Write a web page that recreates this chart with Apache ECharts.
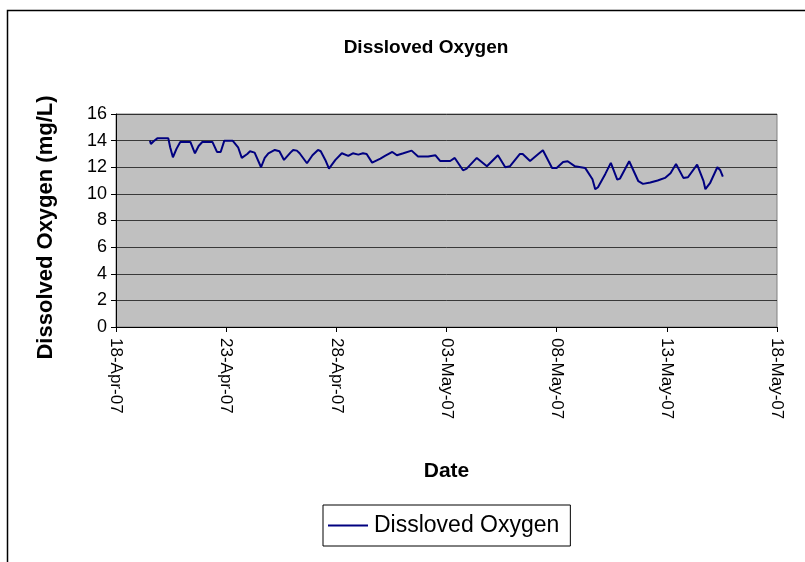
<!DOCTYPE html>
<html>
<head>
<meta charset="utf-8">
<script src="https://cdn.jsdelivr.net/npm/echarts@6/dist/echarts.min.js"></script>
<style>
  html, body { margin: 0; padding: 0; background: #fff; }
  #chart { width: 805px; height: 562px; }
</style>
</head>
<body>
<div id="chart"></div>
<script>
// readings (date hour) and dissolved oxygen, mg/L
const times = [
  '2007-04-19 13:00', '2007-04-19 14:00', '2007-04-19 17:00', '2007-04-19 21:00',
  '2007-04-20 09:00', '2007-04-20 11:00', '2007-04-20 14:00', '2007-04-20 18:00', '2007-04-20 22:00',
  '2007-04-21 09:00', '2007-04-21 14:00', '2007-04-21 18:00', '2007-04-21 22:00',
  '2007-04-22 09:00', '2007-04-22 10:00', '2007-04-22 14:00', '2007-04-22 18:00', '2007-04-22 22:00',
  '2007-04-23 07:00', '2007-04-23 13:00', '2007-04-23 17:00', '2007-04-23 23:00',
  '2007-04-24 02:00', '2007-04-24 07:00', '2007-04-24 14:00', '2007-04-24 18:00', '2007-04-24 22:00',
  '2007-04-25 05:00', '2007-04-25 10:00', '2007-04-25 15:00', '2007-04-25 22:00',
  '2007-04-26 01:00', '2007-04-26 05:00', '2007-04-26 08:00', '2007-04-26 16:00', '2007-04-26 22:00',
  '2007-04-27 04:00', '2007-04-27 07:00', '2007-04-27 12:00', '2007-04-27 16:00', '2007-04-27 23:00',
  '2007-04-28 06:00', '2007-04-28 13:00', '2007-04-28 18:00',
  '2007-04-29 00:00', '2007-04-29 05:00', '2007-04-29 09:00', '2007-04-29 15:00',
  '2007-04-30 00:00', '2007-04-30 05:00', '2007-04-30 13:00', '2007-04-30 18:00',
  '2007-05-01 01:00', '2007-05-01 10:00', '2007-05-01 17:00',
  '2007-05-02 04:00', '2007-05-02 12:00', '2007-05-02 17:00',
  '2007-05-03 04:00', '2007-05-03 09:00', '2007-05-03 18:00', '2007-05-03 22:00',
  '2007-05-04 09:00', '2007-05-04 20:00',
  '2007-05-05 08:00', '2007-05-05 16:00', '2007-05-05 21:00',
  '2007-05-06 08:00', '2007-05-06 11:00', '2007-05-06 19:00',
  '2007-05-07 04:00', '2007-05-07 09:00', '2007-05-07 19:00',
  '2007-05-08 00:00', '2007-05-08 07:00', '2007-05-08 12:00', '2007-05-08 20:00',
  '2007-05-09 07:00', '2007-05-09 15:00', '2007-05-09 18:00', '2007-05-09 21:00',
  '2007-05-10 05:00', '2007-05-10 11:00', '2007-05-10 18:00', '2007-05-10 21:00',
  '2007-05-11 07:00', '2007-05-11 09:00', '2007-05-11 17:00', '2007-05-11 22:00',
  '2007-05-12 06:00', '2007-05-12 14:00', '2007-05-12 22:00',
  '2007-05-13 04:00', '2007-05-13 10:00', '2007-05-13 18:00', '2007-05-13 23:00',
  '2007-05-14 09:00', '2007-05-14 16:00', '2007-05-14 18:00', '2007-05-14 23:00',
  '2007-05-15 07:00', '2007-05-15 10:00', '2007-05-15 13:00'
]
const doValues = [
  14.0, 13.75, 13.95, 14.17,
  14.17, 13.5, 12.75, 13.4, 13.9,
  13.9, 13.05, 13.6, 13.9,
  13.9, 14.05, 13.15, 13.15, 14.0,
  14.0, 13.5, 12.7, 13.0,
  13.2, 13.1, 12.0, 12.7, 13.05,
  13.3, 13.2, 12.55, 13.1,
  13.3, 13.25, 13.05, 12.3, 12.9,
  13.3, 13.2, 12.55, 11.9, 12.55,
  13.05, 12.85, 13.05,
  12.95, 13.05, 13.0, 12.35,
  12.65, 12.85, 13.15, 12.9,
  13.05, 13.25, 12.8,
  12.8, 12.9, 12.47,
  12.47, 12.7, 11.77, 11.9,
  12.7, 12.07,
  12.9, 12.0, 12.07,
  13.0, 13.0, 12.47,
  13.0, 13.28, 11.95,
  11.95, 12.4, 12.45, 12.07,
  11.95, 11.1, 10.35, 10.5,
  11.5, 12.33, 11.07, 11.15,
  12.45, 12.45, 10.95, 10.75,
  10.85, 11.0, 11.2,
  11.55, 12.25, 11.2, 11.25,
  12.2, 10.95, 10.35, 10.8,
  12.0, 11.8, 11.3
]
const yTicks = [0, 2, 4, 6, 8, 10, 12, 14, 16]
const xTickLabels = ['18-Apr-07', '23-Apr-07', '28-Apr-07', '03-May-07', '08-May-07', '13-May-07', '18-May-07']

const startMs = Date.UTC(2007, 3, 18)
function dayOffset(t) {
  const [d, h] = t.split(' ')
  const [yy, mm, dd] = d.split('-').map(Number)
  const hh = Number(h.split(':')[0])
  return (Date.UTC(yy, mm - 1, dd, hh) - startMs) / 86400000
}

const seriesData = times.map((t, i) => [dayOffset(t), doValues[i]])
const font = 'Liberation Sans, Arial, sans-serif'

const chart = echarts.init(document.getElementById('chart'))

const option = {
  backgroundColor: '#fff',
  animation: false,
  title: {
    text: 'Dissloved Oxygen',
    left: 421,
    top: 33,
    textAlign: 'center',
    textStyle: { fontFamily: font, fontSize: 19, fontWeight: 'bold', color: '#000' }
  },
  graphic: [
    {
      type: 'rect',
      shape: { x: 7.5, y: 10.5, width: 900, height: 700 },
      style: { fill: 'none', stroke: '#000', lineWidth: 1.5 },
      silent: true
    }
  ],
  legend: {
    data: ['Dissloved Oxygen'],
    left: 323,
    top: 505,
    padding: [9, 11, 9, 5],
    itemWidth: 40,
    itemHeight: 2,
    itemGap: 6,
    icon: 'rect',
    borderColor: '#000',
    borderWidth: 1,
    borderRadius: 0,
    textStyle: { fontFamily: font, fontSize: 23, color: '#000', padding: [0, 0, 0, 1] }
  },
  grid: {
    left: 116,
    right: 28,
    top: 114,
    bottom: 235,
    show: true,
    backgroundColor: '#C0C0C0',
    borderColor: '#808080',
    borderWidth: 1
  },
  xAxis: {
    type: 'value',
    min: 0,
    max: 30,
    interval: 5,
    name: 'Date',
    nameLocation: 'middle',
    nameGap: 134,
    nameTextStyle: { fontFamily: font, fontSize: 21, fontWeight: 'bold', color: '#000' },
    axisLine: { lineStyle: { color: '#000', width: 1 } },
    axisTick: { show: true, length: 5, lineStyle: { color: '#000' } },
    splitLine: { show: false },
    axisLabel: {
      rotate: -90,
      margin: 11,
      fontFamily: font,
      fontSize: 17,
      color: '#000',
      formatter: v => xTickLabels[Math.round(v / 5)] || ''
    }
  },
  yAxis: {
    type: 'value',
    min: yTicks[0],
    max: yTicks[yTicks.length - 1],
    interval: 2,
    name: 'Dissolved Oxygen (mg/L)',
    nameLocation: 'middle',
    nameGap: 59,
    nameTextStyle: { fontFamily: font, fontSize: 22, fontWeight: 'bold', color: '#000', padding: [0, 14, 0, 0] },
    axisLine: { show: true, lineStyle: { color: '#000', width: 1 } },
    axisTick: { show: true, length: 5, lineStyle: { color: '#000' } },
    splitLine: { show: true, lineStyle: { color: '#000', width: 1, opacity: 0.7 } },
    axisLabel: { margin: 9, fontFamily: font, fontSize: 18, color: '#000' }
  },
  series: [
    {
      name: 'Dissloved Oxygen',
      type: 'line',
      data: seriesData,
      showSymbol: false,
      symbol: 'none',
      lineStyle: { color: '#000080', width: 2 },
      itemStyle: { color: '#000080' }
    }
  ]
}

chart.setOption(option)
</script>
</body>
</html>
